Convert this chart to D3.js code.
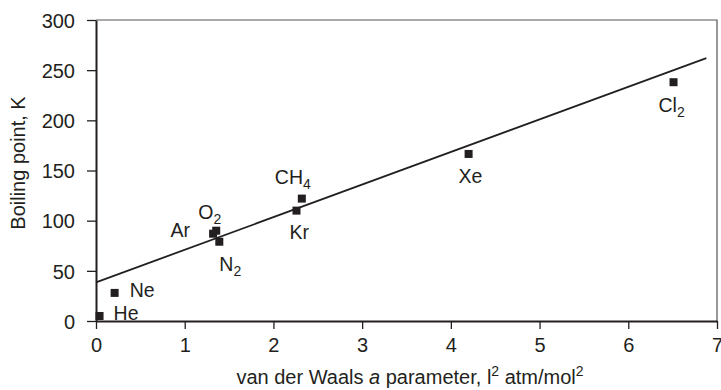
<!DOCTYPE html>
<html>
<head>
<meta charset="utf-8">
<script src="https://cdn.jsdelivr.net/npm/d3@7"></script>
<style>
  body { margin: 0; background: #fff; }
  svg text { font-family: "Liberation Sans", Arial, sans-serif; fill: #231f20; }
</style>
</head>
<body>
<div id="chart"></div>
<script>
// gases: name, subscript, a parameter, boiling point
const gasNames = ["He", "Ne", "Ar", "O", "N", "Kr", "CH", "Xe", "Cl"];
const gasSubs = ["", "", "", "2", "2", "", "4", "", "2"];
const aValues = [0.04, 0.21, 1.32, 1.355, 1.39, 2.26, 2.32, 4.2, 6.51];
const boilValues = [5, 28, 87, 90, 79, 110, 122, 166.5, 238];

// fitted line end points
const fitX = [0, 6.88];
const fitY = [38.5, 262];

const xTicks = [0, 1, 2, 3, 4, 5, 6, 7];
const yTicks = [0, 50, 100, 150, 200, 250, 300];

// label placement relative to the marker (px)
const labelOffsets = [
    [14, 4, "start"], [15, 4, "start"], [-23, 3, "end"], [-18, -12, "start"],
    [0, 29, "start"], [-7, 28, "start"], [-27, -15, "start"], [-10, 29, "start"],
    [-15, 30, "start"]
];

const dimensions = { width: 721, height: 390, left: 96, right: 717, top: 20, bottom: 321 };

const xScale = d3.scaleLinear().domain([0, 7]).range([dimensions.left, dimensions.right]);
const yScale = d3.scaleLinear().domain([0, 300]).range([dimensions.bottom, dimensions.top]);

const wrapper = d3.select("#chart")
    .append("svg")
    .attr("width", dimensions.width)
    .attr("height", dimensions.height);

//frame top and right
wrapper.append("path")
    .attr("d", `M${dimensions.left},${dimensions.top}H${dimensions.right}V${dimensions.bottom}`)
    .attr("fill", "none")
    .attr("stroke", "#555")
    .attr("stroke-width", 1.2);

//x axis
const xAxis = wrapper.append("g")
    .attr("transform", `translate(0,${dimensions.bottom})`)
    .call(d3.axisBottom(xScale).tickValues(xTicks).tickFormat(d3.format("d"))
        .tickSize(8).tickSizeOuter(0).tickPadding(9));

//y axis
const yAxis = wrapper.append("g")
    .attr("transform", `translate(${dimensions.left},0)`)
    .call(d3.axisLeft(yScale).tickValues(yTicks).tickFormat(d3.format("d"))
        .tickSize(9).tickSizeOuter(0).tickPadding(12));

[xAxis, yAxis].forEach(ax => {
    ax.selectAll("text").style("font-size", "20px").attr("fill", "#231f20");
    ax.selectAll("line").attr("stroke", "#231f20").attr("stroke-width", 1.3);
    ax.select(".domain").attr("stroke", "#231f20").attr("stroke-width", 2);
});
yAxis.selectAll("text").attr("dy", "0.36em");

//fit line
wrapper.append("line")
    .attr("x1", xScale(fitX[0]))
    .attr("y1", yScale(fitY[0]))
    .attr("x2", xScale(fitX[1]))
    .attr("y2", yScale(fitY[1]))
    .attr("stroke", "#231f20")
    .attr("stroke-width", 1.8);

const points = gasNames.map((n, i) => ({ name: n, sub: gasSubs[i], a: aValues[i], bp: boilValues[i], off: labelOffsets[i] }));

//markers
wrapper.selectAll("rect.pt")
    .data(points)
    .enter().append("rect")
    .attr("class", "pt")
    .attr("x", d => xScale(d.a) - 4)
    .attr("y", d => yScale(d.bp) - 4)
    .attr("width", 8)
    .attr("height", 8)
    .attr("fill", "#231f20");

//labels
const labels = wrapper.selectAll("text.lbl")
    .data(points)
    .enter().append("text")
    .attr("class", "lbl")
    .attr("x", d => xScale(d.a) + d.off[0])
    .attr("y", d => yScale(d.bp) + d.off[1])
    .attr("text-anchor", d => d.off[2])
    .style("font-size", "19.5px");
labels.append("tspan").text(d => d.name);
labels.filter(d => d.sub).append("tspan")
    .attr("dy", 5)
    .style("font-size", "14px")
    .text(d => d.sub);

//axis titles
const xTitle = wrapper.append("text")
    .attr("x", 410)
    .attr("y", 384)
    .attr("text-anchor", "middle")
    .style("font-size", "20px");
xTitle.append("tspan").text("van der Waals ");
xTitle.append("tspan").style("font-style", "italic").text("a");
xTitle.append("tspan").text(" parameter, l");
xTitle.append("tspan").attr("dy", -8).style("font-size", "14px").text("2");
xTitle.append("tspan").attr("dy", 8).text(" atm/mol");
xTitle.append("tspan").attr("dy", -8).style("font-size", "14px").text("2");

wrapper.append("text")
    .attr("transform", "translate(25,163) rotate(-90)")
    .attr("text-anchor", "middle")
    .style("font-size", "20px")
    .text("Boiling point, K");
</script>
</body>
</html>
